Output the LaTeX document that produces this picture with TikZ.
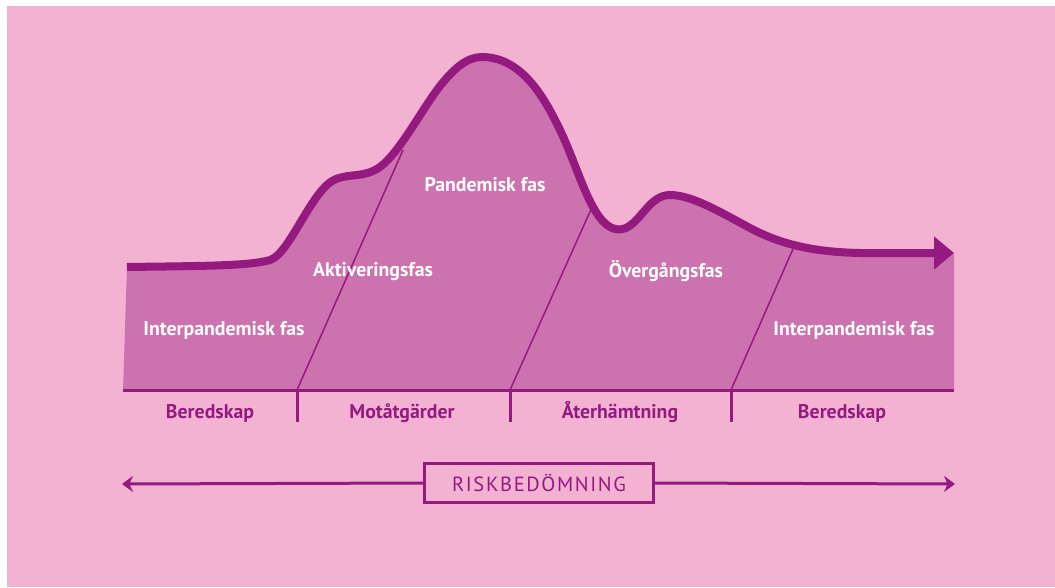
\documentclass[tikz,border=0pt]{standalone}
\usepackage{fontspec}
\setmainfont{PT Sans}
\newfontfamily\riskfont[LetterSpace=8]{PT Sans}
\usetikzlibrary{positioning,arrows.meta}
\definecolor{bgpink}{HTML}{F4B2D2}
\definecolor{areapink}{HTML}{CC73AF}
\definecolor{darkplum}{HTML}{941A80}
% outline of the epidemic wave, in pixel units
\newcommand{\wavecurve}{(127,267) .. controls (200,266) and (250,266) .. (270,260)
 .. controls (290,254) and (312,188) .. (336,179)
 .. controls (352,173) and (364,178) .. (380,167)
 .. controls (400,152) and (420,112) .. (440,86)
 .. controls (455,67) and (468,57) .. (482,57)
 .. controls (512,57) and (535,80) .. (555,120)
 .. controls (572,152) and (582,190) .. (596,212)
 .. controls (606,228) and (616,232) .. (626,228)
 .. controls (642,220) and (650,195) .. (670,195)
 .. controls (692,195) and (720,212) .. (750,228)
 .. controls (782,245) and (815,252) .. (860,253)}

\begin{document}
\begin{tikzpicture}[x=1pt, y=-1pt, font=\fontsize{19.8}{21}\selectfont\bfseries,
    phase/.style={text=white, anchor=base},
    task/.style={text=darkplum, anchor=base},
    slant/.style={darkplum, line width=1.5pt},
    axis/.style={darkplum, line width=3pt}]
    \fill[white] (0,0) rectangle (1055,587);
    \fill[bgpink] (7,6) rectangle (1055,587);
    \fill[areapink] \wavecurve -- (954,253) -- (954,390) -- (123,390) -- cycle;
    % phase borders
    \coordinate (base0) at (123,390);
    \coordinate (base4) at (954,390);
    \foreach \i/\x/\tx/\ty in {1/297/403/150, 2/510/593/205, 3/731/793/249}{
        \coordinate (s\i) at (\x,390);
        \coordinate (t\i) at (\tx,\ty);
        \coordinate (d\i) at (\x,422);
        \draw[slant] (s\i) -- (t\i);
        \draw[axis] (s\i) -- (d\i);
    }
    \draw[axis] (base0) -- (base4);
    \draw[darkplum, line width=8pt, -{Triangle[length=20pt,width=32pt]}] \wavecurve -- (954,253);
    % phase names
    \node[phase] (inter1) at (224,335) {Interpandemisk fas};
    \node[phase] (aktiv) at (373,276) {Aktiveringsfas};
    \node[phase] (pandem) at (485,191) {Pandemisk fas};
    \node[phase] (overg) at (666,277) {Övergångsfas};
    \node[phase] (inter2) at (854,335) {Interpandemisk fas};
    \foreach \x/\name/\n in {210/Beredskap/task1,402/Motåtgärder/task2,620/Återhämtning/task3,842/Beredskap/task4}{
        \node[task] (\n) at (\x,418) {\name};
    }
    % risk assessment
    \node[draw=darkplum, line width=3pt, minimum width=229pt, minimum height=39pt, text=darkplum,
        font=\riskfont\fontsize{20.5}{22}\selectfont] (risk) at (539,483) {RISKBEDÖMNING};
    \coordinate (riskL) at (122,484);
    \coordinate (riskR) at (955,484);
    \draw[axis, -{Stealth[length=11pt,width=16pt]}] (risk.west) -- (riskL);
    \draw[axis, -{Stealth[length=11pt,width=16pt]}] (risk.east) -- (riskR);
\end{tikzpicture}
\end{document}
